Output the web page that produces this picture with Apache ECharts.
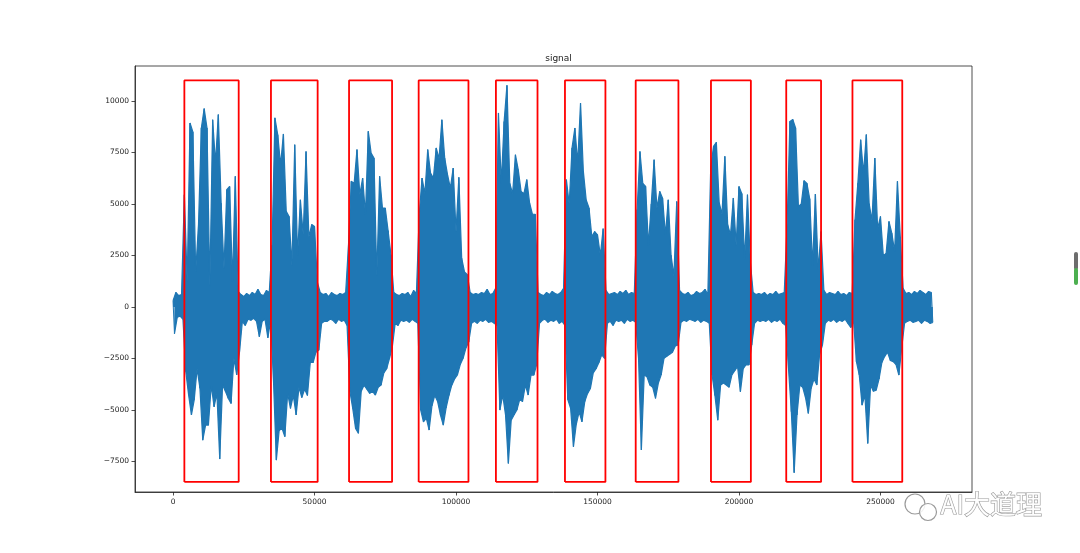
<!DOCTYPE html>
<html>
<head>
<meta charset="utf-8">
<script src="https://cdn.jsdelivr.net/npm/echarts@6/dist/echarts.min.js"></script>
<style>
html,body{margin:0;padding:0;background:#fff;}
#chart{width:1080px;height:553px;}
</style>
</head>
<body>
<div id="chart"></div>
<script>
// ---- data (envelope of the waveform; one bin = 1000 samples) ----
const binSize = 1000;
const sigHi = [
300,700,550,600,5450,1230,8930,8500,1720,4000,
8690,9630,8690,1000,9090,7000,9340,5040,1880,5690,
5850,1230,6340,750,600,500,650,550,700,600,
850,600,550,800,700,3000,9180,8360,6900,8400,
4640,4390,2000,7880,2500,5200,3500,7550,3400,4000,
3900,1200,700,600,650,500,700,600,550,650,
600,700,3000,6100,6000,7640,5450,6260,4500,8530,
7470,7230,1500,6340,4800,4800,3700,2530,700,600,
550,650,600,700,500,800,650,4500,6260,5500,
7640,6500,6260,7720,7200,9090,7230,6420,5770,6740,
3650,6290,2370,1700,1560,700,600,650,600,700,
650,850,600,650,900,9420,6000,9000,10760,6000,
5500,7390,6660,5600,5500,6180,5050,4500,4500,700,
600,550,700,600,750,650,600,700,900,6180,
5000,7720,8690,7000,9900,6580,5200,4800,3400,3660,
3500,2500,3800,800,600,650,700,600,750,650,
800,600,700,650,4720,7550,6000,5850,3000,5000,
7150,4800,5610,5280,3500,5200,2500,1500,5120,800,
650,600,700,550,600,750,650,700,850,600,
6740,7800,7990,5060,4500,7310,4000,3500,5290,3000,
5850,5500,2300,5450,2200,700,600,650,600,700,
550,650,600,750,600,650,700,4000,9010,9100,
8690,4880,5000,6130,6000,5250,2000,5480,1800,3660,
800,600,700,650,600,750,600,650,550,700,
650,4230,6000,8120,6500,8370,5000,4200,7230,3800,
4390,2500,2600,4150,3580,2700,6100,3400,900,650,
700,600,750,650,800,700,600,750,700
];
const sigLo = [
-1300,-500,-450,-600,-3140,-4280,-5250,-4500,-3000,-3950,
-6470,-5740,-5740,-3800,-4850,-4200,-7390,-3790,-4100,-4440,
-4690,-2500,-3300,-2170,-700,-900,-600,-650,-550,-700,
-1450,-700,-600,-1500,-650,-3600,-7440,-6000,-5900,-6300,
-4200,-4930,-4300,-5250,-3900,-4400,-4000,-4300,-2700,-2700,
-2200,-2100,-800,-700,-700,-600,-650,-800,-600,-700,
-650,-900,-4100,-4930,-5900,-6140,-4100,-3800,-4000,-4200,
-4100,-4280,-3900,-3800,-3200,-3000,-2500,-1930,-800,-900,
-650,-700,-650,-750,-600,-700,-800,-5000,-5580,-5400,
-5980,-4800,-4300,-4600,-5250,-5740,-4900,-4300,-3800,-3500,
-3300,-2800,-2500,-2000,-1700,-800,-700,-800,-650,-700,
-600,-750,-700,-800,-900,-5010,-4280,-5250,-7600,-5500,
-5250,-5010,-4500,-4600,-3800,-4280,-3300,-3310,-2800,-800,
-650,-600,-750,-650,-700,-600,-800,-700,-900,-4500,
-4930,-6790,-5700,-5100,-5580,-4600,-4200,-3960,-3200,-3000,
-2700,-2330,-2500,-800,-700,-900,-650,-700,-650,-800,
-600,-700,-650,-750,-2500,-6950,-3300,-3400,-3800,-3900,
-4440,-3700,-3300,-2500,-2400,-2300,-2200,-1900,-1850,-750,
-650,-700,-600,-650,-700,-600,-750,-650,-700,-800,
-3310,-4300,-5500,-3800,-3700,-3790,-3900,-3300,-3100,-2900,
-4120,-3000,-2800,-2820,-1850,-800,-650,-700,-650,-700,
-600,-750,-650,-700,-600,-800,-900,-3000,-5090,-8050,
-5250,-3800,-3900,-4400,-5170,-3960,-3500,-3790,-2300,-1850,
-800,-650,-700,-600,-750,-650,-700,-600,-800,-1000,
-700,-2660,-3300,-4770,-4300,-6630,-3800,-4100,-4040,-3500,
-2700,-2400,-2200,-2600,-2660,-2800,-3310,-2000,-800,-700,
-650,-750,-700,-650,-800,-650,-700,-800,-750
];
// red boxes (sample index ranges) and their vertical extent
const rectStart = [4000, 34600, 62200, 86800, 114100, 138500, 163500, 190100, 216700, 240100];
const rectEnd   = [23200, 51100, 77400, 104400, 128800, 152800, 178600, 204200, 229000, 257700];
const rectBottom = -8500;
const rectTop = 11000;
// tick labels
const xTicks = [0, 50000, 100000, 150000, 200000, 250000];
const yTicks = [-7500, -5000, -2500, 0, 2500, 5000, 7500, 10000];

// ---- build series ----
const BLUE = '#1f77b4';
const hiData = [], loData = [], waveData = [];
for (let i = 0; i < sigHi.length; i++) {
  hiData.push([i * binSize, sigHi[i]]);
  loData.push([i * binSize + binSize / 2, sigLo[i]]);
  waveData.push([i * binSize, sigHi[i]]);
  waveData.push([i * binSize + binSize / 2, sigLo[i]]);
}
const series = [
  { type: 'line', data: hiData, symbol: 'none', silent: true, z: 2,
    lineStyle: { color: BLUE, width: 1.2 }, areaStyle: { color: BLUE, opacity: 1, origin: 0 } },
  { type: 'line', data: loData, symbol: 'none', silent: true, z: 2,
    lineStyle: { color: BLUE, width: 1.2 }, areaStyle: { color: BLUE, opacity: 1, origin: 0 } },
  { type: 'line', data: waveData, symbol: 'none', silent: true, z: 2,
    lineStyle: { color: BLUE, width: 1 } }
];
for (let k = 0; k < rectStart.length; k++) {
  const s = rectStart[k], e = rectEnd[k];
  series.push({
    type: 'line',
    data: [[s, rectBottom], [s, rectTop], [e, rectTop], [e, rectBottom], [s, rectBottom]],
    symbol: 'none',
    silent: true,
    z: 3,
    lineStyle: { color: '#ff0000', width: 1.8 }
  });
}
const fmt = v => (v < 0 ? '\u2212' + Math.abs(v) : String(v));
const lblStyle = { fontSize: 7.5, color: '#222', fontFamily: 'DejaVu Sans' };

const chart = echarts.init(document.getElementById('chart'), null, { renderer: 'canvas' });
chart.setOption({
  animation: false,
  backgroundColor: '#fff',
  title: {
    text: 'signal',
    left: 553.5,
    top: 49,
    textAlign: 'center',
    textStyle: { fontSize: 9, fontWeight: 'normal', color: '#222', fontFamily: 'DejaVu Sans' }
  },
  grid: {
    left: 135, right: 108, top: 66, bottom: 61,
    show: true, borderColor: '#222', borderWidth: 0.8, backgroundColor: 'transparent'
  },
  xAxis: {
    type: 'value',
    min: -13445, max: 282345,
    axisLine: { show: true, onZero: false, lineStyle: { color: '#222', width: 0.8 } },
    axisTick: { show: true, customValues: xTicks, length: 3.5, lineStyle: { color: '#222', width: 0.8 } },
    axisLabel: Object.assign({ customValues: xTicks, formatter: fmt, margin: 6 }, lblStyle),
    splitLine: { show: false }
  },
  yAxis: {
    type: 'value',
    min: -8990, max: 11700,
    axisLine: { show: true, onZero: false, lineStyle: { color: '#222', width: 0.8 } },
    axisTick: { show: true, customValues: yTicks, length: 3.5, lineStyle: { color: '#222', width: 0.8 } },
    axisLabel: Object.assign({ customValues: yTicks, formatter: fmt, margin: 6 }, lblStyle),
    splitLine: { show: false }
  },
  series: series,
  graphic: [
    { type: 'circle', shape: { cx: 915, cy: 504, r: 10 }, style: { fill: 'rgba(255,255,255,0.85)', stroke: '#9a9a9a', lineWidth: 1.2 }, z: 10 },
    { type: 'circle', shape: { cx: 928, cy: 512, r: 8.5 }, style: { fill: 'rgba(255,255,255,0.85)', stroke: '#9a9a9a', lineWidth: 1.2 }, z: 10 },
    { type: 'text', left: 940, top: 491, z: 10,
      style: { text: 'AI大道理', fontSize: 26, fontFamily: 'Noto Sans CJK SC', fill: 'rgba(255,255,255,0.95)', stroke: '#9a9a9a', lineWidth: 1.2 } },
    { type: 'rect', shape: { x: 1074, y: 252, width: 4, height: 18, r: 2 }, style: { fill: '#6d6d6d' }, z: 10 },
    { type: 'rect', shape: { x: 1074, y: 268, width: 4, height: 17, r: 2 }, style: { fill: '#4caf50' }, z: 10 }
  ]
});
</script>
</body>
</html>
